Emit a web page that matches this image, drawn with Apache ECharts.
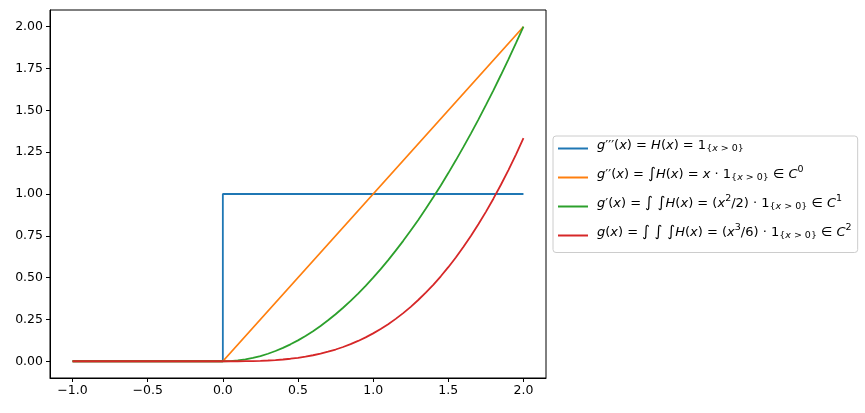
<!DOCTYPE html>
<html lang="en">
  <head>
    <meta charset="UTF-8" />
    <title>g and its derivatives</title>
    <script src="https://cdn.jsdelivr.net/npm/echarts@6.0.0/dist/echarts.min.js"></script>
    <style>
      html, body { margin: 0; padding: 0; background: #fff; }
      #main { width: 865px; height: 413px; }
    </style>
  </head>
  <body>
    <div id="main"></div>
    <script type="text/javascript">
      // values
      const stepX = [-1.0, 0.0, 0.0, 2.0];
      const stepY = [0, 0, 1, 1];
      const rampX = [-1.0, 0.0, 2.0];
      const rampY = [0, 0, 2];
      const curveX = [-1.0, 0.0, 0.05, 0.1, 0.15, 0.2, 0.25, 0.3, 0.35, 0.4, 0.45, 0.5,
        0.55, 0.6, 0.65, 0.7, 0.75, 0.8, 0.85, 0.9, 0.95, 1.0,
        1.05, 1.1, 1.15, 1.2, 1.25, 1.3, 1.35, 1.4, 1.45, 1.5,
        1.55, 1.6, 1.65, 1.7, 1.75, 1.8, 1.85, 1.9, 1.95, 2.0];
      const quadY = [0, 0, 0.0013, 0.005, 0.0113, 0.02, 0.0313, 0.045, 0.0613, 0.08, 0.1013, 0.125,
        0.1513, 0.18, 0.2113, 0.245, 0.2813, 0.32, 0.3613, 0.405, 0.4513, 0.5,
        0.5513, 0.605, 0.6613, 0.72, 0.7813, 0.845, 0.9113, 0.98, 1.0513, 1.125,
        1.2013, 1.28, 1.3613, 1.445, 1.5313, 1.62, 1.7113, 1.805, 1.9013, 2.0];
      const cubicY = [0, 0, 0.00002, 0.00017, 0.00056, 0.0013, 0.0026, 0.0045, 0.0071, 0.0107, 0.0152, 0.0208,
        0.0277, 0.036, 0.0458, 0.0572, 0.0703, 0.0853, 0.1024, 0.1215, 0.1429, 0.1667,
        0.1929, 0.2218, 0.2535, 0.288, 0.3255, 0.3662, 0.4101, 0.4573, 0.5081, 0.5625,
        0.6207, 0.6827, 0.7487, 0.8188, 0.8932, 0.972, 1.0553, 1.1432, 1.2358, 1.3333];
      const xTicks = [-1.0, -0.5, 0.0, 0.5, 1.0, 1.5, 2.0];
      const yTicks = [0, 0.25, 0.5, 0.75, 1.0, 1.25, 1.5, 1.75, 2.0];
      const seriesNames = ["s3", "s2", "s1", "s0"];
      const colors = ["#1f77b4", "#ff7f0e", "#2ca02c", "#d62728"];

      // legend labels (matplotlib mathtext imitated with rich text)
      const sub = "{sb|{}{si|x}{sb| > 0}}";
      const labels = {
        s3: "{g|}{i|g}{n|′′′(}{i|x}{n|) = }{i|H}{n|(}{i|x}{n|) = 1}" + sub,
        s2: "{g|}{i|g}{n|′′(}{i|x}{n|) = }{int|∫}{i|H}{n|(}{i|x}{n|) = }{i|x}{n| · 1}" + sub + "{n| ∈ }{i|C}{sp|0}",
        s1: "{g|}{i|g}{n|′(}{i|x}{n|) = }{int|∫ ∫}{i|H}{n|(}{i|x}{n|) = (}{i|x}{sp|2}{n|/2) · 1}" + sub + "{n| ∈ }{i|C}{sp|1}",
        s0: "{g|}{i|g}{n|(}{i|x}{n|) = }{int|∫ ∫ ∫}{i|H}{n|(}{i|x}{n|) = (}{i|x}{sp|3}{n|/6) · 1}" + sub + "{n| ∈ }{i|C}{sp|2}",
      };

      const zip = (xs, ys) => xs.map((x, k) => [x, ys[k]]);
      const font = "DejaVu Sans";
      const minus = (s) => s.replace("-", "\u2212");

      const myChart = echarts.init(document.getElementById("main"));
      const option = {
        animation: false,
        color: colors,
        grid: {
          left: 50, top: 10, width: 496, height: 368,
          show: true, borderColor: "#000", borderWidth: 1,
        },
        xAxis: {
          type: "value", min: -1.15, max: 2.15,
          splitLine: { show: false },
          axisLine: { show: true, onZero: false, lineStyle: { color: "#000", width: 1 } },
          axisTick: { show: true, length: 4, customValues: xTicks, lineStyle: { color: "#000" } },
          axisLabel: {
            customValues: xTicks, color: "#000", fontFamily: font, fontSize: 12.5, margin: 6,
            formatter: (v) => minus(v.toFixed(1)),
          },
        },
        yAxis: {
          type: "value", min: -0.1, max: 2.1,
          splitLine: { show: false },
          axisLine: { show: true, onZero: false, lineStyle: { color: "#000", width: 1 } },
          axisTick: { show: true, length: 4, customValues: yTicks, lineStyle: { color: "#000" } },
          axisLabel: {
            customValues: yTicks, color: "#000", fontFamily: font, fontSize: 12.5, margin: 7,
            formatter: (v) => minus(v.toFixed(2)),
          },
        },
        legend: {
          orient: "vertical", left: 553, top: 136,
          padding: [3, 6, 12, 5], itemGap: 11,
          backgroundColor: "#fff", borderColor: "#ccc", borderWidth: 1, borderRadius: 3,
          selectedMode: false,
          icon: "rect", itemWidth: 30, itemHeight: 2,
          data: seriesNames,
          formatter: (name) => labels[name],
          textStyle: {
            color: "#000", fontFamily: font, fontSize: 9.5,
            rich: {
              g: { width: 4 },
              n: { fontFamily: font, fontSize: 13, color: "#000", padding: [0, 0, 6, 0] },
              i: { fontFamily: font, fontSize: 13, fontStyle: "italic", color: "#000", padding: [0, 0, 6, 0] },
              int: { fontFamily: font, fontSize: 15, color: "#000", padding: [0, 0, 6, 0] },
              sb: { fontFamily: font, fontSize: 9.5, color: "#000" },
              si: { fontFamily: font, fontSize: 9.5, fontStyle: "italic", color: "#000" },
              sp: { fontFamily: font, fontSize: 9.5, color: "#000", padding: [0, 0, 16, 0] },
            },
          },
        },
        series: [
          { name: "s3", data: zip(stepX, stepY) },
          { name: "s2", data: zip(rampX, rampY) },
          { name: "s1", data: zip(curveX, quadY) },
          { name: "s0", data: zip(curveX, cubicY) },
        ].map((s) => Object.assign(s, {
          type: "line", showSymbol: false, symbol: "none",
          lineStyle: { width: 1.8 },
        })),
      };
      myChart.setOption(option);
    </script>
  </body>
</html>
